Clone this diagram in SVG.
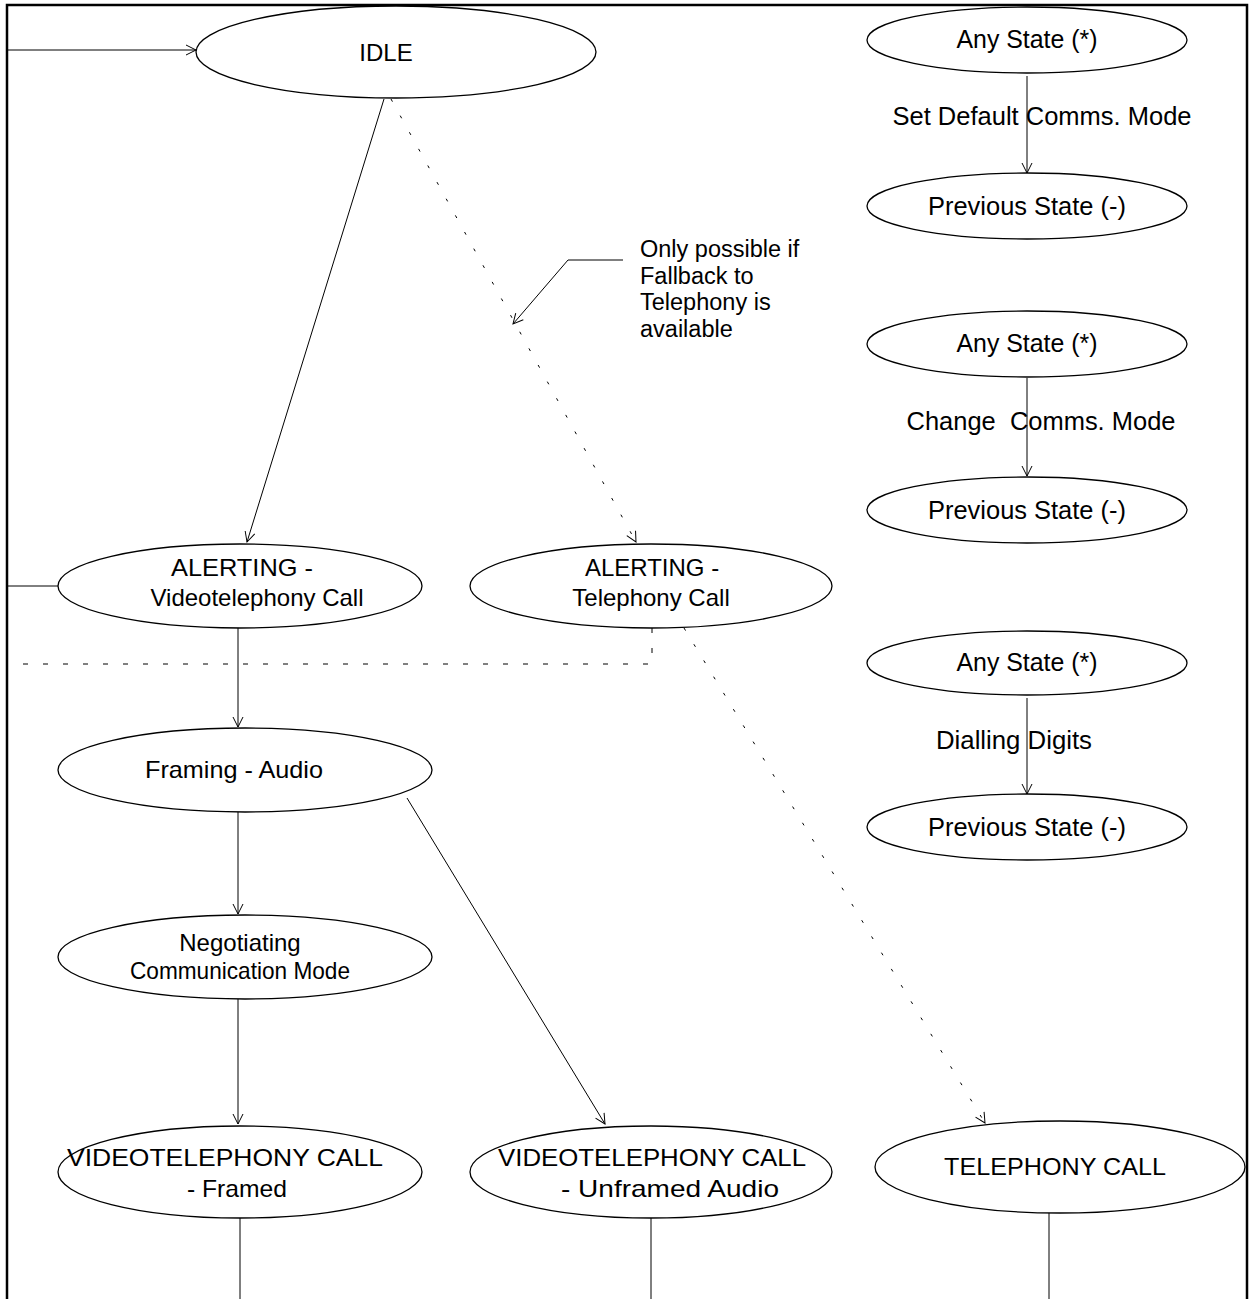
<svg xmlns="http://www.w3.org/2000/svg" width="1249" height="1299" viewBox="0 0 1249 1299">
  <style>
    .node ellipse { fill: #ffffff; stroke: #000000; stroke-width: 1.3; }
    .node text, .label { font-family: "Liberation Sans", Arial, sans-serif; font-size: 24px; fill: #000000; text-anchor: middle; }
    .note { font-family: "Liberation Sans", Arial, sans-serif; font-size: 23.5px; fill: #000000; }
    .side text, .side .label { font-size: 25px; }
    .label { white-space: pre; }
    .edge { fill: none; stroke: #000000; stroke-width: 1; }
    .arrow { marker-end: url(#open); }
    .dotted { stroke-dasharray: 3 16; }
    .dashed { stroke-dasharray: 5 15; }
    .frame { fill: none; stroke: #000000; stroke-width: 2.5; }
  </style>
  <defs>
    <marker id="open" viewBox="0 0 12 12" refX="11" refY="6" markerWidth="12" markerHeight="12" markerUnits="userSpaceOnUse" orient="auto">
      <path d="M1,1 L11,6 L1,11" fill="none" stroke="#000000" stroke-width="1"/>
    </marker>
  </defs>

  <rect width="1249" height="1299" fill="#ffffff"/>
  <!-- outer frame, open at the bottom -->
  <path class="frame" d="M7,1299 V5 H1247 V1299"/>

  <g id="connectors">
    <line class="edge arrow" x1="7" y1="50" x2="196" y2="50"/>
    <line class="edge arrow" x1="384" y1="99" x2="247" y2="542"/>
    <line class="edge arrow dotted" x1="391" y1="99" x2="636" y2="542"/>
    <line class="edge" x1="7" y1="586" x2="58" y2="586"/>
    <line class="edge arrow" x1="238" y1="628" x2="238" y2="727"/>
    <path class="edge dashed" d="M652,628 V664 H8"/>
    <line class="edge arrow dotted" x1="684" y1="628" x2="985" y2="1123"/>
    <line class="edge arrow" x1="238" y1="812" x2="238" y2="914"/>
    <line class="edge arrow" x1="407" y1="798" x2="605" y2="1124"/>
    <line class="edge arrow" x1="238" y1="999" x2="238" y2="1124"/>
    <line class="edge arrow" x1="1027" y1="76" x2="1027" y2="173"/>
    <line class="edge arrow" x1="1027" y1="378" x2="1027" y2="476"/>
    <line class="edge arrow" x1="1027" y1="698" x2="1027" y2="794"/>
    <polyline class="edge arrow" points="623,260 568,260 513,324"/>
    <line class="edge" x1="240" y1="1218" x2="240" y2="1299"/>
    <line class="edge" x1="651" y1="1218" x2="651" y2="1299"/>
    <line class="edge" x1="1049" y1="1213" x2="1049" y2="1299"/>
  </g>

  <g id="idle" class="node">
    <ellipse cx="396" cy="52" rx="200" ry="46"/>
    <text x="386" y="61">IDLE</text>
  </g>

  <g class="side">
    <g id="any-state-1" class="node">
      <ellipse cx="1027" cy="40" rx="160" ry="33"/>
      <text x="1027" y="48" textLength="141" lengthAdjust="spacingAndGlyphs">Any State (*)</text>
    </g>
    <g id="previous-state-1" class="node">
      <ellipse cx="1027" cy="206" rx="160" ry="33"/>
      <text x="1027" y="215" textLength="198" lengthAdjust="spacingAndGlyphs">Previous State (-)</text>
    </g>
    <text class="label" x="1042" y="125" textLength="299" lengthAdjust="spacingAndGlyphs">Set Default Comms. Mode</text>

    <g id="any-state-2" class="node">
      <ellipse cx="1027" cy="344" rx="160" ry="33"/>
      <text x="1027" y="352" textLength="141" lengthAdjust="spacingAndGlyphs">Any State (*)</text>
    </g>
    <g id="previous-state-2" class="node">
      <ellipse cx="1027" cy="510" rx="160" ry="33"/>
      <text x="1027" y="519" textLength="198" lengthAdjust="spacingAndGlyphs">Previous State (-)</text>
    </g>
    <text class="label" x="1041" y="430" xml:space="preserve" textLength="269" lengthAdjust="spacingAndGlyphs">Change  Comms. Mode</text>

    <g id="any-state-3" class="node">
      <ellipse cx="1027" cy="663" rx="160" ry="32"/>
      <text x="1027" y="671" textLength="141" lengthAdjust="spacingAndGlyphs">Any State (*)</text>
    </g>
    <g id="previous-state-3" class="node">
      <ellipse cx="1027" cy="827" rx="160" ry="33"/>
      <text x="1027" y="836" textLength="198" lengthAdjust="spacingAndGlyphs">Previous State (-)</text>
    </g>
    <text class="label" x="1014" y="749" textLength="156" lengthAdjust="spacingAndGlyphs">Dialling Digits</text>
  </g>

  <g id="note-fallback">
    <text class="note" x="640" y="257">Only possible if</text>
    <text class="note" x="640" y="284">Fallback to</text>
    <text class="note" x="640" y="310">Telephony is</text>
    <text class="note" x="640" y="337">available</text>
  </g>

  <g id="alerting-videotelephony" class="node">
    <ellipse cx="240" cy="586" rx="182" ry="42"/>
    <text x="242" y="576" textLength="142" lengthAdjust="spacingAndGlyphs">ALERTING -</text>
    <text x="257" y="606">Videotelephony Call</text>
  </g>

  <g id="alerting-telephony" class="node">
    <ellipse cx="651" cy="586" rx="181" ry="42"/>
    <text x="652" y="576">ALERTING -</text>
    <text x="651" y="606">Telephony Call</text>
  </g>

  <g id="framing-audio" class="node">
    <ellipse cx="245" cy="770" rx="187" ry="42"/>
    <text x="234" y="778" textLength="178" lengthAdjust="spacingAndGlyphs">Framing - Audio</text>
  </g>

  <g id="negotiating" class="node">
    <ellipse cx="245" cy="957" rx="187" ry="42"/>
    <text x="240" y="951">Negotiating</text>
    <text x="240" y="979" textLength="220" lengthAdjust="spacingAndGlyphs">Communication Mode</text>
  </g>

  <g id="videotelephony-framed" class="node">
    <ellipse cx="240" cy="1172" rx="182" ry="46"/>
    <text x="225" y="1166" textLength="316" lengthAdjust="spacingAndGlyphs">VIDEOTELEPHONY CALL</text>
    <text x="237" y="1197" textLength="100" lengthAdjust="spacingAndGlyphs">- Framed</text>
  </g>

  <g id="videotelephony-unframed" class="node">
    <ellipse cx="651" cy="1172" rx="181" ry="46"/>
    <text x="652" y="1166" textLength="308" lengthAdjust="spacingAndGlyphs">VIDEOTELEPHONY CALL</text>
    <text x="670" y="1197" textLength="218" lengthAdjust="spacingAndGlyphs">- Unframed Audio</text>
  </g>

  <g id="telephony-call" class="node">
    <ellipse cx="1060" cy="1167" rx="185" ry="46"/>
    <text x="1055" y="1175" textLength="222" lengthAdjust="spacingAndGlyphs">TELEPHONY CALL</text>
  </g>
</svg>
